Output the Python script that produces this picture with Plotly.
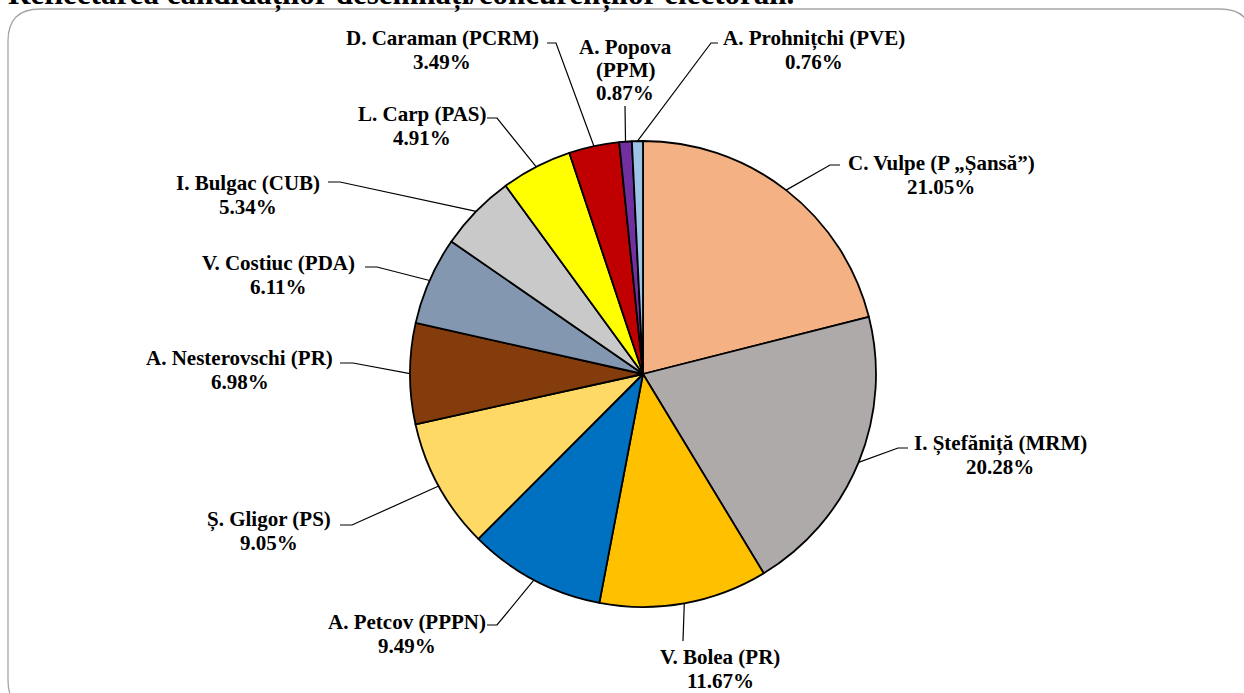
import math
import plotly.graph_objects as go

# date
candidati = [
    "C. Vulpe (P „Șansă”)", "I. Ștefăniță (MRM)", "V. Bolea (PR)",
    "A. Petcov (PPPN)", "Ș. Gligor (PS)", "A. Nesterovschi (PR)",
    "V. Costiuc (PDA)", "I. Bulgac (CUB)", "L. Carp (PAS)",
    "D. Caraman (PCRM)", "A. Popova<br>(PPM)", "A. Prohnițchi (PVE)",
]
procente = [21.05, 20.28, 11.67, 9.49, 9.05, 6.98, 6.11, 5.34, 4.91, 3.49, 0.87, 0.76]
culori = ["#F4B183", "#AEAAAA", "#FFC000", "#0070C0", "#FFD966", "#843C0C",
          "#8497B0", "#C9C9C9", "#FFFF00", "#C00000", "#7030A0", "#9DC3E6"]

titlu = "Reflectarea candidaților desemnați/concurenților electorali."

# geometrie (pixeli)
W, H = 1244, 693
CX, CY, R = 643, 374, 233
FONT = "Liberation Serif, Times New Roman, serif"
RAND = 23.5  # distanta dintre randuri

# pozitia etichetelor (centru text) si a cotului liniei de legatura
et_x = [941, 1000, 720, 407, 269, 240, 278, 248, 422, 442, 625, 814]
et_y = [175, 455, 669, 634, 531, 370, 275, 195, 126, 50, 70, 50]
linie_a = [(840, 165), (908, 448), (683, 641), (487, 625), (340, 525), (340, 363),
           (365, 267), (328, 182), (487, 118), (547, 43), (625, 106), (718, 43)]
linie_b = [(830, 165), (898, 448), (683, 641), (497, 625), (352, 525), (353, 363),
           (377, 267), (340, 182), (497, 118), (556, 43), (625, 106), (711, 43)]


def px(x):
    return x / W


def py(y):
    return 1 - y / H


fig = go.Figure()

fig.add_trace(go.Pie(
    labels=[c.replace("<br>", " ") for c in candidati],
    values=procente,
    sort=False,
    direction="clockwise",
    rotation=0,
    marker=dict(colors=culori, line=dict(color="black", width=1.8)),
    textinfo="none",
    hoverinfo="label+percent",
    domain=dict(x=[px(CX - R), px(CX + R)], y=[py(CY + R), py(CY - R)]),
    showlegend=False,
))

# linii de legatura: de la text la mijlocul feliei
total = sum(procente)
cum = 0
shapes = []
for i, v in enumerate(procente):
    mid = (cum + v / 2) / total * 2 * math.pi
    cum += v
    ex = CX + R * math.sin(mid)
    ey = CY - R * math.cos(mid)
    (ax, ay), (bx, by) = linie_a[i], linie_b[i]
    shapes.append(dict(
        type="path", xref="paper", yref="paper",
        path=f"M {px(ax)},{py(ay)} L {px(bx)},{py(by)} L {px(ex)},{py(ey)}",
        line=dict(color="black", width=1.2),
    ))

# chenar rotunjit
x0, y0, x1, y1, rc = 8, 9, 1252, 712, 32
chenar = (
    f"M {px(x0)},{py(y0 + rc)} Q {px(x0)},{py(y0)} {px(x0 + rc)},{py(y0)} "
    f"L {px(x1 - rc)},{py(y0)} Q {px(x1)},{py(y0)} {px(x1)},{py(y0 + rc)} "
    f"L {px(x1)},{py(y1 - rc)} Q {px(x1)},{py(y1)} {px(x1 - rc)},{py(y1)} "
    f"L {px(x0 + rc)},{py(y1)} Q {px(x0)},{py(y1)} {px(x0)},{py(y1 - rc)} Z"
)
shapes.append(dict(type="path", xref="paper", yref="paper", path=chenar,
                   line=dict(color="#A6A6A6", width=1.3), layer="below"))

anot = []
for i in range(len(procente)):
    randuri = candidati[i].split("<br>") + [f"{procente[i]:.2f}%"]
    n = len(randuri)
    for k, r in enumerate(randuri):
        anot.append(dict(
            x=px(et_x[i]), y=py(et_y[i] + (k - (n - 1) / 2) * RAND),
            xref="paper", yref="paper",
            text=f"<b>{r}</b>",
            showarrow=False, align="center", xanchor="center", yanchor="middle",
            font=dict(family=FONT, size=21, color="black"),
        ))

anot.append(dict(
    x=px(6), y=py(14), xref="paper", yref="paper",
    text=f"<b>{titlu}</b>", showarrow=False,
    xanchor="left", yanchor="bottom",
    font=dict(family=FONT, size=31, color="black"),
))

fig.update_layout(
    width=W, height=H,
    margin=dict(l=0, r=0, t=0, b=0),
    paper_bgcolor="white",
    plot_bgcolor="white",
    shapes=shapes,
    annotations=anot,
)

fig.write_html("out.html", config={"displayModeBar": False},
               post_script="document.body.style.margin='0px';")
